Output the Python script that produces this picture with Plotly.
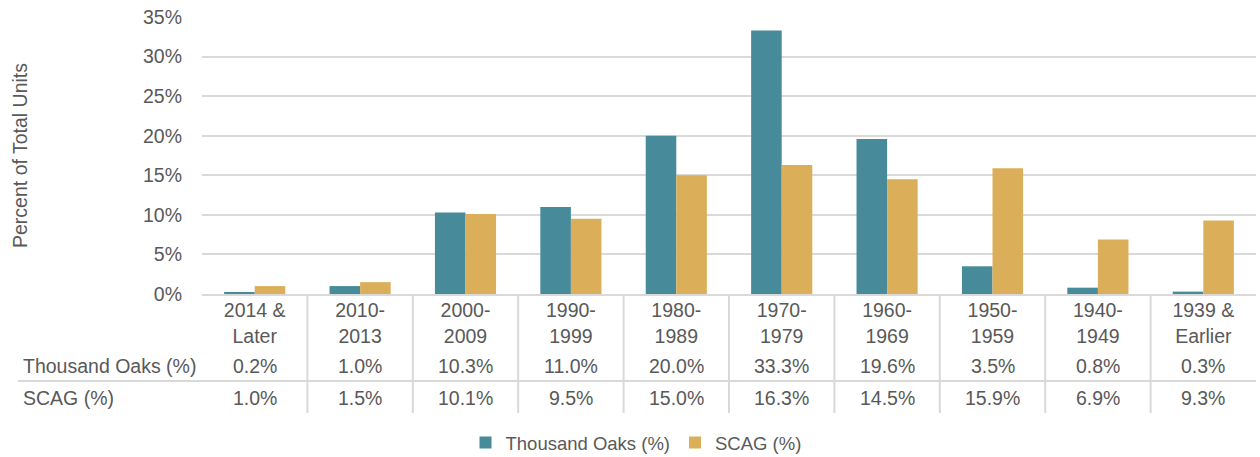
import plotly.graph_objects as go

categories = ["2014 &<br>Later", "2010-<br>2013", "2000-<br>2009", "1990-<br>1999", "1980-<br>1989",
              "1970-<br>1979", "1960-<br>1969", "1950-<br>1959", "1940-<br>1949", "1939 &<br>Earlier"]
thousand_oaks = [0.2, 1.0, 10.3, 11.0, 20.0, 33.3, 19.6, 3.5, 0.8, 0.3]
scag = [1.0, 1.5, 10.1, 9.5, 15.0, 16.3, 14.5, 15.9, 6.9, 9.3]
series_names = ["Thousand Oaks (%)", "SCAG (%)"]
y_ticks = [0, 5, 10, 15, 20, 25, 30, 35]

TEAL = "#478A99"
GOLD = "#DBAF59"
TXT = "#595959"
GRID = "#D9D9D9"
FONT = "Liberation Sans"
FS = 19.5

W, H = 1260, 457
L, R, T, B = 202, 4, 17, 163
ph = H - T - B
pw = W - L - R

def py(pix):
    return (H - B - pix) / ph

def px(pix):
    return (pix - L) / pw

fig = go.Figure()
fig.add_trace(go.Bar(x=list(range(len(categories))), y=thousand_oaks, name=series_names[0],
                     marker=dict(color=TEAL, line=dict(width=0))))
fig.add_trace(go.Bar(x=list(range(len(categories))), y=scag, name=series_names[1],
                     marker=dict(color=GOLD, line=dict(width=0))))

annotations = []
shapes = []
rows = [thousand_oaks, scag]
row_y = [py(366), py(398)]
for r, vals in enumerate(rows):
    annotations.append(dict(x=px(21), xref="paper", y=row_y[r], yref="paper", text=series_names[r],
                            showarrow=False, xanchor="left", yanchor="middle",
                            font=dict(family=FONT, size=FS, color=TXT)))
    for i, v in enumerate(vals):
        annotations.append(dict(x=i, xref="x", y=row_y[r], yref="paper", text=f"{v:.1f}%",
                                showarrow=False, xanchor="center", yanchor="middle",
                                font=dict(family=FONT, size=FS, color=TXT)))

for i in range(len(categories) - 1):
    shapes.append(dict(type="line", xref="x", yref="paper", x0=i + 0.5, x1=i + 0.5,
                       y0=0, y1=py(413), line=dict(color=GRID, width=2)))
shapes.append(dict(type="line", xref="paper", yref="paper", x0=px(18), x1=1,
                   y0=py(381), y1=py(381), line=dict(color=GRID, width=2)))

fig.update_layout(
    width=W, height=H, autosize=False,
    margin=dict(l=L, r=R, t=T, b=B, autoexpand=False),
    plot_bgcolor="white", paper_bgcolor="white",
    barmode="group", bargap=0.42, bargroupgap=0,
    font=dict(family=FONT, size=FS, color=TXT),
    xaxis=dict(tickmode="array", tickvals=list(range(len(categories))), ticktext=categories,
               range=[-0.5, len(categories) - 0.5], showgrid=False, showline=True,
               linecolor=GRID, linewidth=2, ticks="", tickangle=0, automargin=False,
               ticklabelstandoff=-2,
               tickfont=dict(family=FONT, size=FS, color=TXT)),
    yaxis=dict(range=[0, 35], tickvals=y_ticks, ticktext=[f"{t}%" for t in y_ticks],
               showgrid=True, gridcolor=GRID, gridwidth=2, zeroline=False, showline=False,
               ticks="", ticklabelstandoff=19, automargin=False,
               tickfont=dict(family=FONT, size=FS, color=TXT),
               title=dict(text="Percent of Total Units", font=dict(family=FONT, size=FS, color=TXT),
                          standoff=110)),
    legend=dict(orientation="h", x=px(636), xref="paper", xanchor="center",
                y=py(443), yanchor="middle", font=dict(family=FONT, size=18.5, color=TXT),
                traceorder="normal", itemwidth=30, tracegroupgap=0),
    annotations=annotations, shapes=shapes,
)

fig.write_html("out.html", config={"displayModeBar": False},
               post_script="document.body.style.margin='0px';document.body.style.overflow='hidden';")
